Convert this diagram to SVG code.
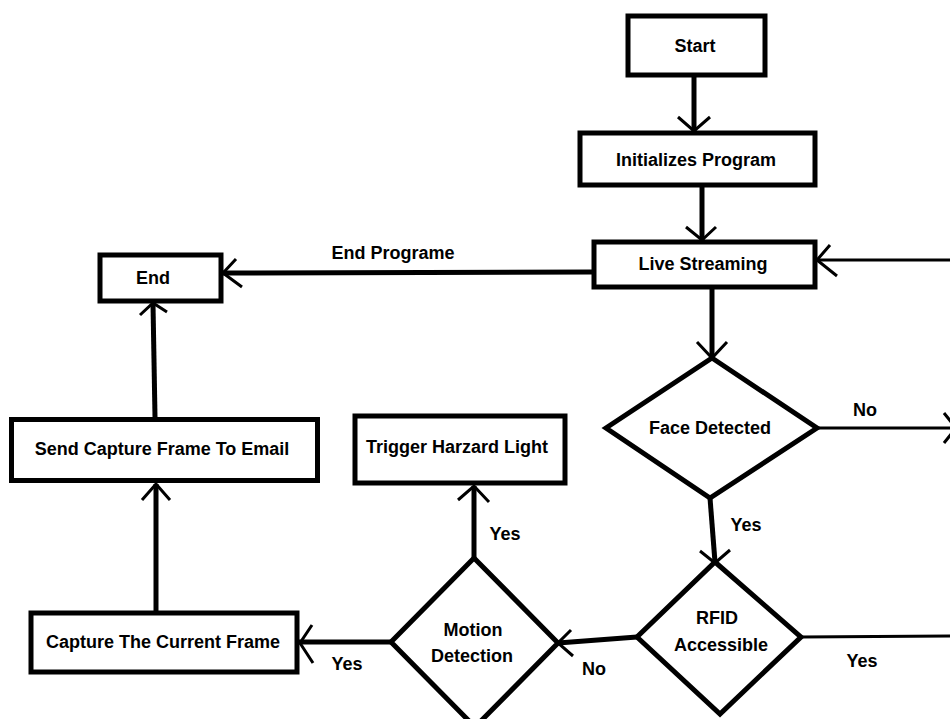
<svg xmlns="http://www.w3.org/2000/svg" width="950" height="719" viewBox="0 0 950 719">
<style>
.box{fill:#fff;stroke:#000;stroke-width:5}
.t{font-family:"Liberation Sans",Arial,sans-serif;font-weight:bold;font-size:18px;fill:#000;text-anchor:middle}
.thick{stroke:#000;stroke-width:5;fill:none;stroke-linecap:butt}
.thin{stroke:#000;stroke-width:3;fill:none}
.ah{stroke:#000;stroke-width:3;fill:none;stroke-linecap:butt;stroke-linejoin:miter}
</style>
<rect width="950" height="719" fill="#fff"/>
<g id="connectors">
  <line class="thick" x1="694" y1="77" x2="694" y2="131"/>
  <polyline class="ah" points="678,117 694,131 710,117"/>
  <line class="thick" x1="702" y1="187" x2="702" y2="240"/>
  <polyline class="ah" points="686,227 702,240 716,227"/>
  <line class="thin" x1="950" y1="260" x2="817" y2="260"/>
  <polyline class="ah" points="830,245 817,260 837,276"/>
  <line class="thick" x1="592" y1="272" x2="223" y2="273"/>
  <polyline class="ah" points="236,259 223,273 242,287"/>
  <line class="thick" x1="712" y1="289" x2="712" y2="358"/>
  <polyline class="ah" points="697,342 712,358 727,342"/>
  <line class="thin" x1="817" y1="428" x2="950" y2="428"/>
  <polyline class="ah" points="944,413 956,428 944,443"/>
  <line class="thick" x1="710" y1="498" x2="715" y2="562"/>
  <polyline class="ah" points="700,551 715,563 730,550"/>
  <line class="thin" x1="801" y1="637" x2="950" y2="636"/>
  <line class="thick" x1="637" y1="637" x2="558" y2="643"/>
  <polyline class="ah" points="571,630 558,643 573,656"/>
  <line class="thick" x1="474" y1="558" x2="474" y2="486"/>
  <polyline class="ah" points="458,500 474,486 489,502"/>
  <line class="thick" x1="391" y1="642" x2="299" y2="642"/>
  <polyline class="ah" points="312,625 300,643 313,663"/>
  <line class="thick" x1="156" y1="611" x2="156" y2="484"/>
  <polyline class="ah" points="142,500 156,484 170,500"/>
  <line class="thick" x1="155" y1="417" x2="153" y2="304"/>
  <polyline class="ah" points="140,315 153,303 167,312"/>
  <text class="t" x="393" y="259">End Programe</text>
  <text class="t" x="865" y="416">No</text>
  <text class="t" x="746" y="531">Yes</text>
  <text class="t" x="862" y="667">Yes</text>
  <text class="t" x="594" y="675">No</text>
  <text class="t" x="505" y="540">Yes</text>
  <text class="t" x="347" y="670">Yes</text>
</g>
<g id="start">
  <rect class="box" x="628" y="16" width="137" height="59"/>
  <text class="t" x="695" y="52">Start</text>
</g>
<g id="init">
  <rect class="box" x="580" y="133" width="235" height="52"/>
  <text class="t" x="696" y="166">Initializes Program</text>
</g>
<g id="live">
  <rect class="box" x="594" y="242" width="221" height="45"/>
  <text class="t" x="703" y="270">Live Streaming</text>
</g>
<g id="end">
  <rect class="box" x="100" y="255" width="121" height="46"/>
  <text class="t" x="153" y="284">End</text>
</g>
<g id="face">
  <polygon class="box" points="712,358 817,428 710,498 606,428"/>
  <text class="t" x="710" y="434">Face Detected</text>
</g>
<g id="rfid">
  <polygon class="box" points="715,562 801,637 720,714 637,637"/>
  <text class="t" x="717" y="624">RFID</text>
  <text class="t" x="721" y="651">Accessible</text>
</g>
<g id="motion">
  <polygon class="box" points="474,558 558,643 475,727 391,642"/>
  <text class="t" x="473" y="636">Motion</text>
  <text class="t" x="472" y="662">Detection</text>
</g>
<g id="send">
  <rect class="box" x="11.5" y="419.5" width="306" height="61"/>
  <text class="t" x="162" y="455">Send Capture Frame To Email</text>
</g>
<g id="trigger">
  <rect class="box" x="355" y="416" width="210" height="67"/>
  <text class="t" x="457" y="453">Trigger Harzard Light</text>
</g>
<g id="capture">
  <rect class="box" x="31" y="613" width="266" height="59"/>
  <text class="t" x="163" y="648">Capture The Current Frame</text>
</g>
</svg>
